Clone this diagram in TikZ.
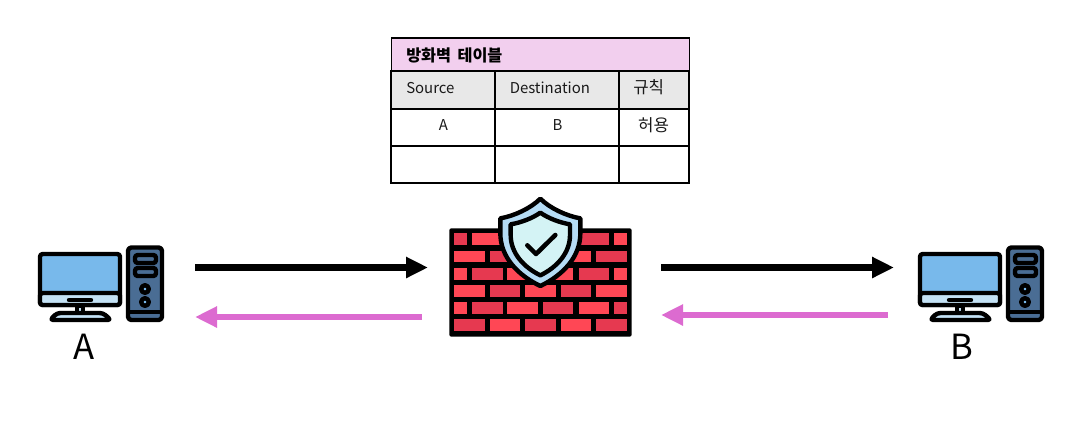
\documentclass[tikz,border=0pt]{standalone}
\usepackage{fontspec}
\setmainfont{Noto Sans CJK KR}
\usetikzlibrary{arrows.meta}
\definecolor{hdr}{HTML}{F2CFEE}
\definecolor{sub}{HTML}{E8E8E8}
\definecolor{pinkarrow}{HTML}{DC6BD0}
\definecolor{screen}{HTML}{78B9EB}
\definecolor{band}{HTML}{C4E2F5}
\definecolor{tower}{HTML}{4A6D94}
\definecolor{bl}{HTML}{FF4755}
\definecolor{bd}{HTML}{E63950}
\definecolor{shieldout}{HTML}{B5DCF5}
\definecolor{shieldin}{HTML}{D4F3F5}
\tikzset{
  latinfont/.style={font=\fontsize{11.2}{14}\selectfont,text=black!90},
  korfont/.style={font=\fontsize{12.6}{14}\selectfont,text=black!90},
  cellbox/.style={draw=black,line width=0.8pt,inner sep=0pt,latinfont},
  blackarrow/.style={line width=4.8pt,draw=black,-{Triangle[length=16.5pt,width=15pt]}},
  pinkarrowline/.style={line width=4.8pt,draw=pinkarrow,-{Triangle[length=16.5pt,width=15pt]}},
  icon/.style={line width=3.3pt,draw=black,line join=round},
  biglabel/.style={font=\fontsize{26}{30}\selectfont,inner sep=0pt},
  computer/.pic={
    \draw[icon,fill=screen,rounded corners=2pt] (40,254) rectangle (120,305);
    \draw[icon,fill=band,rounded corners=2pt] (40,293) -- (120,293) -- (120,305) -- (40,305) -- cycle;
    \draw[line width=3.3pt,line cap=round] (69,300) -- (91,300);
    \draw[icon,fill=band] (77,306) rectangle (83,313);
    \draw[icon,fill=band,rounded corners=2.5pt] (50,320) -- (57,313) -- (103,313) -- (111,320) -- cycle;
    \draw[icon,fill=tower,rounded corners=2.5pt] (128,247.5) rectangle (162,320);
    \draw[line width=3.3pt] (128,312) -- (162,312);
    \draw[icon,fill=tower,rounded corners=2pt] (135,255) rectangle (156,263);
    \draw[icon,fill=tower,rounded corners=2pt] (135,268) rectangle (156,276);
    \draw[icon,fill=screen] (145,289) circle (3.8);
    \draw[icon,fill=screen] (145,302) circle (3.8);
  }
}
\begin{document}
\begin{tikzpicture}[x=0.75pt,y=-0.75pt]
\useasboundingbox (0,0) rectangle (1088,433);

% table
\node[cellbox,fill=hdr,minimum width=298*0.75pt,minimum height=33*0.75pt] (title) at (540.5,54.5) {};
\node[font=\fontsize{12.2}{14}\selectfont\bfseries,anchor=west,inner sep=0pt] (titletext) at (406,55) {방화벽\hspace{2pt} 테이블};
\node[cellbox,fill=sub,minimum width=104*0.75pt,minimum height=38*0.75pt] (c11) at (443,90) {};
\node[cellbox,fill=sub,minimum width=124*0.75pt,minimum height=38*0.75pt] (c12) at (557,90) {};
\node[cellbox,fill=sub,minimum width=70*0.75pt,minimum height=38*0.75pt] (c13) at (654,90) {};
\node[cellbox,minimum width=104*0.75pt,minimum height=37*0.75pt] (c21) at (443,127.5) {};
\node[cellbox,minimum width=124*0.75pt,minimum height=37*0.75pt] (c22) at (557,127.5) {};
\node[cellbox,minimum width=70*0.75pt,minimum height=37*0.75pt] (c23) at (654,127.5) {};
\node[cellbox,minimum width=104*0.75pt,minimum height=37*0.75pt] (c31) at (443,164.5) {};
\node[cellbox,minimum width=124*0.75pt,minimum height=37*0.75pt] (c32) at (557,164.5) {};
\node[cellbox,minimum width=70*0.75pt,minimum height=37*0.75pt] (c33) at (654,164.5) {};
\node[latinfont,anchor=west,inner sep=0pt] (src) at (406,88) {Source};
\node[latinfont,anchor=west,inner sep=0pt] (dst) at (509.5,88) {Destination};
\node[korfont,anchor=west,inner sep=0pt] (rule) at (633,87) {규칙};
\node[latinfont,inner sep=0pt] (va) at (443.5,125) {A};
\node[latinfont,inner sep=0pt] (vb) at (557.5,125) {B};
\node[korfont,inner sep=0pt] (vr) at (653.5,125) {허용};

% computers
\pic (pca) at (0,0) {computer};
\pic (pcb) at (880,0) {computer};
\node[biglabel] (la) at (84,347) {A};
\node[biglabel] (lb) at (962,347) {B};

% firewall
\begin{scope}[shift={(430,190)},x=0.25pt,y=-0.25pt]
  \fill[black,rounded corners=1.5pt] (58,115) rectangle (605,440);
  \foreach \a/\b/\c in {
    72/110/bd,126/218/bl,232/324/bd,340/430/bl,447/537/bd,552/590/bl}
    {\fill[\c] (\a,130) rectangle (\b,165);}
  \foreach \a/\b/\c in {
    72/164/bl,179/270/bd,286/378/bl,392/484/bl,499/590/bd}
    {\fill[\c] (\a,182) rectangle (\b,217);}
  \foreach \a/\b/\c in {
    72/110/bl,126/218/bd,232/324/bl,340/430/bl,447/537/bd,552/590/bl}
    {\fill[\c] (\a,235) rectangle (\b,270);}
  \foreach \a/\b/\c in {
    72/164/bl,179/270/bd,286/378/bl,392/484/bd,499/590/bl}
    {\fill[\c] (\a,285) rectangle (\b,320);}
  \foreach \a/\b/\c in {
    72/110/bl,126/218/bd,232/324/bl,340/430/bd,447/537/bl,552/590/bd}
    {\fill[\c] (\a,337) rectangle (\b,372);}
  \foreach \a/\b/\c in {
    72/164/bd,179/270/bl,286/378/bd,392/484/bl,499/590/bd}
    {\fill[\c] (\a,388) rectangle (\b,423);}
  % shield
  \draw[line width=3.3pt,line join=round,fill=shieldout]
    (331,26) .. controls (360,55) and (410,78) .. (451,85) -- (451,130)
    .. controls (451,200) and (400,255) .. (331,288)
    .. controls (262,255) and (211,200) .. (211,130) -- (211,85)
    .. controls (252,78) and (302,55) .. (331,26) -- cycle;
  \draw[line width=3.3pt,line join=round,fill=shieldin]
    (331,68) .. controls (355,85) and (390,98) .. (420,103) -- (420,135)
    .. controls (420,190) and (380,232) .. (331,256)
    .. controls (282,232) and (242,190) .. (242,135) -- (242,103)
    .. controls (272,98) and (307,85) .. (331,68) -- cycle;
  \draw[line width=3.4pt,line cap=round,line join=round] (292,166) -- (318,192) -- (376,135);
\end{scope}

% arrows
\coordinate (a1s) at (195,267.5);
\coordinate (a1e) at (428,267.5);
\coordinate (a2s) at (422,317);
\coordinate (a2e) at (195,317);
\coordinate (b1s) at (661,267.5);
\coordinate (b1e) at (894,267.5);
\coordinate (b2s) at (888,315);
\coordinate (b2e) at (661,315);
\draw[blackarrow] (a1s) -- (a1e);
\draw[pinkarrowline] (a2s) -- (a2e);
\draw[blackarrow] (b1s) -- (b1e);
\draw[pinkarrowline] (b2s) -- (b2e);
\end{tikzpicture}
\end{document}
